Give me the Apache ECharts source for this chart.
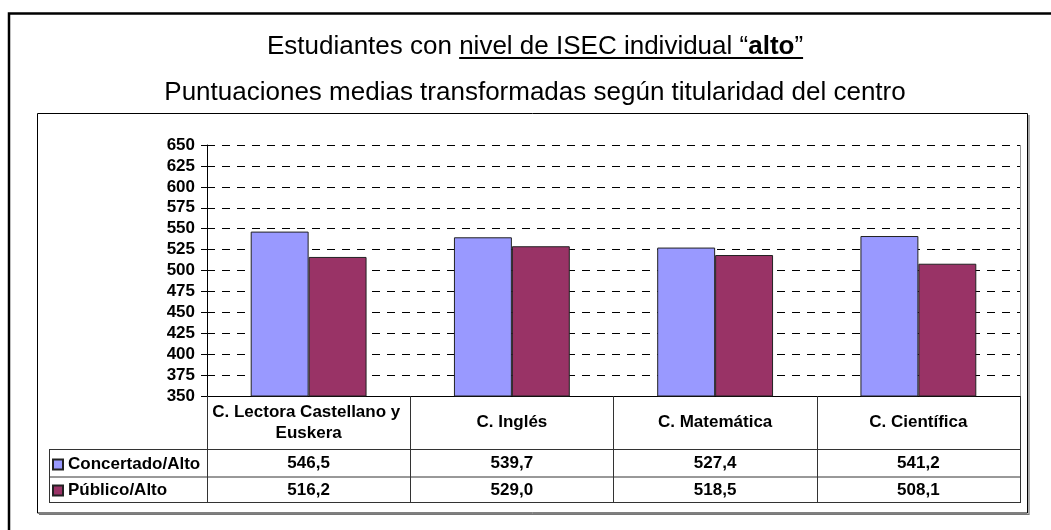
<!DOCTYPE html>
<html><head><meta charset="utf-8">
<script src="https://cdn.jsdelivr.net/npm/echarts@6/dist/echarts.min.js"></script>
<style>html,body{margin:0;padding:0;background:#fff}#c{width:1051px;height:530px}</style>
</head><body><div id="c"></div>
<script>
// ---- data ----
const categories = ['C. Lectora Castellano y Euskera', 'C. Inglés', 'C. Matemática', 'C. Científica'];
const seriesNames = ['Concertado/Alto', 'Público/Alto'];
const concertado = [546.5, 539.7, 527.4, 541.2];
const publico = [516.2, 529.0, 518.5, 508.1];
const yMin = 350, yMax = 650, yStep = 25;
const titleLine1 = ['Estudiantes con ', 'nivel de ISEC individual \u201C', 'alto', '\u201D'];
const titleLine2 = 'Puntuaciones medias transformadas según titularidad del centro';

// ---- layout ----
const FF = '"Liberation Sans", Arial, Helvetica, sans-serif';
const G = { left: 207, right: 1020, top: 145, bottom: 396 };
const W = 1051, H = 530;
const headerH = 53, row1H = 27.5, row2H = 25.5;
const tableLeft = 49;
const colors = ['#9999FF', '#993366'];
const fmt = v => v.toFixed(1).replace('.', ',');

function measure(txt, font) {
  const c = document.createElement('canvas').getContext('2d');
  c.font = font;
  return c.measureText(txt).width;
}
const tFont = '26px ' + FF, tFontB = 'bold 26px ' + FF;
const pw = titleLine1.map((p, i) => measure(p, i === 2 ? tFontB : tFont));
const tw = pw.reduce((a, b) => a + b, 0);
const tCx = 535;
let tx = tCx - tw / 2;
const titleEls = [];
const xs = [];
titleLine1.forEach((p, i) => {
  xs.push(tx);
  titleEls.push({ type: 'text', x: tx, y: 47, style: { text: p, font: (i === 2 ? 'bold ' : '') + '26px ' + FF, fill: '#000', align: 'left', verticalAlign: 'middle' } });
  tx += pw[i];
});
const ulStart = xs[1], ulEnd = tx;

const hY1 = G.bottom + headerH, hY2 = hY1 + row1H, hY3 = hY2 + row2H;
const lc = '#333';
const graphics = [
  { type: 'rect', shape: { x: 9, y: 13.5, width: 1070, height: 560 }, style: { fill: 'none', stroke: '#000', lineWidth: 2.5 }, z: 0 },
  { type: 'rect', shape: { x: 37.5, y: 113.5, width: 990, height: 399.5 }, style: { fill: 'none', stroke: '#000', lineWidth: 1 }, z: 0 },
  { type: 'polyline', shape: { points: [[39, 514.5], [1029, 514.5], [1029, 115]] }, style: { fill: 'none', stroke: '#777', lineWidth: 1.2 }, z: 0 },
  ...titleEls,
  { type: 'line', shape: { x1: ulStart, y1: 58, x2: ulEnd, y2: 58 }, style: { stroke: '#000', lineWidth: 2 } },
  { type: 'text', x: tCx, y: 93, style: { text: titleLine2, font: '26px ' + FF, fill: '#000', align: 'center', verticalAlign: 'middle' } },
  { type: 'line', shape: { x1: G.right + 0.5, y1: G.top, x2: G.right + 0.5, y2: G.bottom }, style: { stroke: '#999', lineWidth: 1 } },
  { type: 'line', shape: { x1: tableLeft, y1: hY1 + 0.5, x2: G.right + 1, y2: hY1 + 0.5 }, style: { stroke: lc, lineWidth: 1 } },
  { type: 'line', shape: { x1: tableLeft, y1: hY2 + 0.5, x2: G.right + 1, y2: hY2 + 0.5 }, style: { stroke: lc, lineWidth: 1 } },
  { type: 'line', shape: { x1: tableLeft, y1: hY3 + 0.5, x2: G.right + 1, y2: hY3 + 0.5 }, style: { stroke: lc, lineWidth: 1 } },
  { type: 'line', shape: { x1: tableLeft + 0.5, y1: hY1, x2: tableLeft + 0.5, y2: hY3 + 1 }, style: { stroke: lc, lineWidth: 1 } }
];

const lbl = { fontFamily: FF, fontWeight: 'bold', fontSize: 17, color: '#000' };
const chart = echarts.init(document.getElementById('c'), null, { renderer: 'canvas' });
chart.setOption({
  animation: false,
  backgroundColor: '#fff',
  grid: { left: G.left, right: W - G.right, top: G.top, bottom: H - G.bottom, containLabel: false },
  legend: {
    data: seriesNames, orient: 'vertical', left: 52, top: hY1 + 7, itemWidth: 10, itemHeight: 10, itemGap: 9,
    icon: 'rect', padding: 0, selectedMode: false, textStyle: Object.assign({}, lbl)
  },
  xAxis: [
    {
      type: 'category', data: categories, position: 'bottom',
      axisLine: { show: true, lineStyle: { color: '#000', width: 1 } },
      axisTick: { show: true, alignWithLabel: false, interval: 0, length: hY3 - G.bottom + 1, lineStyle: { color: lc } },
      axisLabel: Object.assign({ interval: 0, margin: headerH / 2, verticalAlign: 'middle', width: 195, overflow: 'break', lineHeight: 21, align: 'center' }, lbl),
      splitLine: { show: false }
    },
    {
      type: 'category', data: categories, position: 'bottom',
      axisLine: { show: false }, axisTick: { show: false }, splitLine: { show: false },
      axisLabel: Object.assign({ interval: 0, margin: headerH + row1H / 2 + 1, verticalAlign: 'middle', formatter: (v, i) => fmt(concertado[i]) }, lbl)
    },
    {
      type: 'category', data: categories, position: 'bottom',
      axisLine: { show: false }, axisTick: { show: false }, splitLine: { show: false },
      axisLabel: Object.assign({ interval: 0, margin: headerH + row1H + row2H / 2 + 1, verticalAlign: 'middle', formatter: (v, i) => fmt(publico[i]) }, lbl)
    }
  ],
  yAxis: {
    type: 'value', min: yMin, max: yMax, interval: yStep,
    axisLine: { show: true, lineStyle: { color: '#000', width: 1 } },
    axisTick: { show: true, length: 6, lineStyle: { color: '#000' } },
    axisLabel: Object.assign({ margin: 12 }, lbl),
    splitLine: { show: true, lineStyle: { color: '#000', type: [8, 7], width: 1 } }
  },
  series: [
    { name: seriesNames[0], type: 'bar', data: concertado, barGap: '0%', barCategoryGap: '43%',
      itemStyle: { color: colors[0], borderColor: '#222', borderWidth: 1 } },
    { name: seriesNames[1], type: 'bar', data: publico, barGap: '0%', barCategoryGap: '43%',
      itemStyle: { color: colors[1], borderColor: '#222', borderWidth: 1 } }
  ],
  graphic: graphics
});
</script>
</body></html>
